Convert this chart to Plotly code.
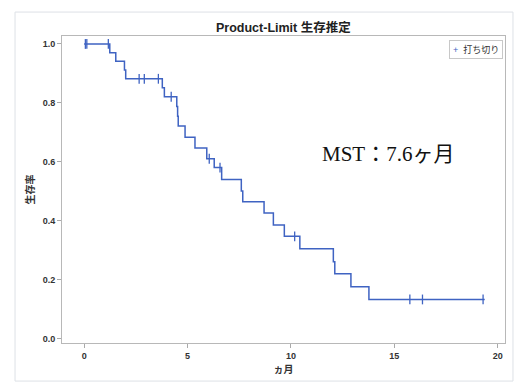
import plotly.graph_objects as go

# Kaplan-Meier event times (months) and survival after each event
event_times = [1.24, 1.53, 1.95, 2.01, 3.78, 3.88, 4.48, 4.52, 4.55, 4.88, 5.36, 5.93,
               6.29, 6.65, 7.60, 7.67, 8.70, 9.15, 9.68, 10.43, 12.05, 12.12, 12.90, 13.77]
survival = [0.970, 0.941, 0.912, 0.882, 0.852, 0.821, 0.788, 0.755, 0.722, 0.684, 0.647, 0.611,
            0.581, 0.541, 0.502, 0.465, 0.427, 0.386, 0.348, 0.306, 0.262, 0.221, 0.177, 0.134]
end_time = 19.37
censor_times = [0.06, 0.13, 1.17, 2.66, 2.91, 3.59, 4.21, 6.05, 6.57, 10.18, 15.75, 16.36, 19.29]

x_ticks = [0, 5, 10, 15, 20]
y_ticks = [0.0, 0.2, 0.4, 0.6, 0.8, 1.0]

title_text = "Product-Limit 生存推定"
x_title = "ヵ月"
y_title = "生存率"
legend_text = "打ち切り"
mst_text = "MST：7.6ヶ月"

line_color = "#3F63C2"

xs = [0] + event_times + [end_time]
ys = [1.0] + survival + [survival[-1]]


def surv_at(t):
    s = 1.0
    for et, sv in zip(event_times, survival):
        if et <= t:
            s = sv
    return s


censor_y = [surv_at(t) for t in censor_times]

FONT = "Liberation Sans, Arial, Noto Sans CJK JP"

fig = go.Figure()
fig.add_trace(go.Scatter(x=xs, y=ys, mode="lines", line=dict(color=line_color, width=1.5, shape="hv"),
                         showlegend=False, hoverinfo="skip"))
fig.add_trace(go.Scatter(x=censor_times, y=censor_y, mode="markers", name=legend_text, showlegend=False,
                         marker=dict(symbol="line-ns", size=7, line=dict(color=line_color, width=1.3),
                                     color=line_color)))

fig.update_layout(
    width=515, height=383,
    margin=dict(l=62, r=10, t=36, b=40, autoexpand=False),
    paper_bgcolor="white", plot_bgcolor="white",
    font=dict(family=FONT, color="#222"),
    showlegend=False,
    xaxis=dict(range=[-1.07, 20.35], tickvals=x_ticks, ticks="outside", ticklen=4, tickcolor="#aaa",
               showline=True, linecolor="#b8b8b8", linewidth=1, mirror=True, showgrid=False, zeroline=False,
               automargin=False,
               tickfont=dict(size=9, family=FONT, weight="bold", color="#333"),
               title=dict(text=x_title, font=dict(size=10, family=FONT, weight="bold", color="#333"), standoff=6)),
    yaxis=dict(range=[-0.0136, 1.027], tickvals=y_ticks, tickformat=".1f", ticks="outside", ticklen=4,
               tickcolor="#aaa", showline=True, linecolor="#b8b8b8", linewidth=1, mirror=True,
               showgrid=False, zeroline=False, automargin=False,
               tickfont=dict(size=9, family=FONT, weight="bold", color="#333"),
               title=dict(text=y_title, font=dict(size=10, family=FONT, weight="bold", color="#333"), standoff=6)),
)

fig.add_annotation(text=title_text, xref="paper", yref="paper", x=0.5, y=1.029, showarrow=False,
                   font=dict(size=12.5, family=FONT, weight="bold", color="#222"), yanchor="middle")
fig.add_annotation(text=mst_text, xref="paper", yref="paper", x=0.582, y=0.615, xanchor="left",
                   showarrow=False, font=dict(size=21, family="Liberation Serif, Noto Sans CJK JP", color="#111"))
# legend box
fig.add_annotation(text=f"<span style='color:{line_color}'>+</span>  {legend_text}", xref="paper", yref="paper",
                   x=0.995, y=0.988, xanchor="right", yanchor="top", showarrow=False,
                   bordercolor="#c8c8c8", borderwidth=1, borderpad=3, bgcolor="white",
                   font=dict(size=9, family=FONT, color="#333"))

# outer frame
fig.add_shape(type="rect", xref="paper", yref="paper", x0=-0.106, x1=1.018, y0=-0.124, y1=1.078,
              line=dict(color="#dde1e6", width=1), fillcolor="rgba(0,0,0,0)", layer="below")

fig.write_html("out.html", config={"displayModeBar": False},
               post_script="document.body.style.margin='0px';document.body.style.overflow='hidden';")
